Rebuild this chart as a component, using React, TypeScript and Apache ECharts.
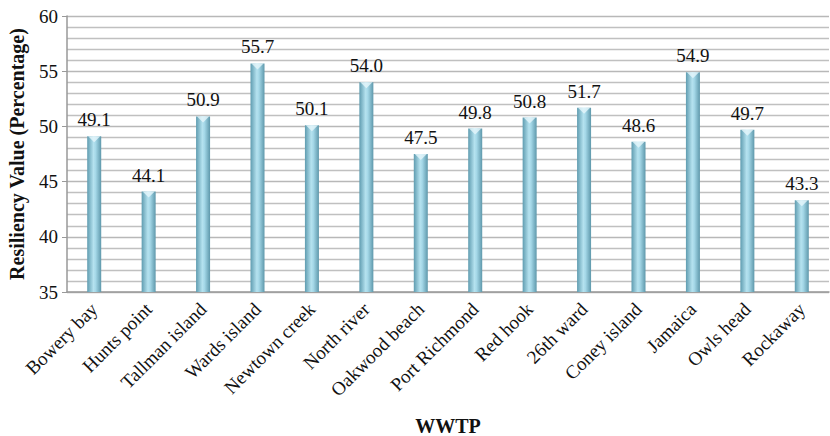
import React, { useEffect, useRef } from "react";
import * as echarts from "echarts";

const categories = [
  "Bowery bay", "Hunts point", "Tallman island", "Wards island", "Newtown creek",
  "North river", "Oakwood beach", "Port Richmond", "Red hook", "26th ward",
  "Coney island", "Jamaica", "Owls head", "Rockaway",
];
const values = [49.1, 44.1, 50.9, 55.7, 50.1, 54.0, 47.5, 49.8, 50.8, 51.7, 48.6, 54.9, 49.7, 43.3];
const yMin = 35;
const yMax = 60;
const yStep = 5;

const FONT = "Liberation Serif";

export default function App() {
  const ref = useRef<HTMLDivElement>(null);
  useEffect(() => {
    if (!ref.current) return;
    const chart = echarts.init(ref.current, undefined, { renderer: "svg" });
    chart.setOption({
      animation: false,
      grid: { left: 67, right: 1, top: 16, bottom: 144, containLabel: false, outerBoundsMode: "none" },
      xAxis: {
        type: "category",
        data: categories,
        name: "WWTP",
        nameLocation: "middle",
        nameGap: 124,
        nameTextStyle: { fontFamily: FONT, fontWeight: "bold", fontSize: 20, color: "#111" },
        axisLine: { lineStyle: { color: "#999", width: 1.5 } },
        axisTick: { show: false },
        axisLabel: {
          rotate: 45,
          interval: 0,
          fontFamily: FONT,
          fontSize: 19,
          color: "#111",
          margin: 14,
        },
      },
      yAxis: {
        type: "value",
        min: yMin,
        max: yMax,
        interval: yStep,
        name: "Resiliency Value (Percentage)",
        nameLocation: "middle",
        nameGap: 40,
        nameTextStyle: { fontFamily: FONT, fontWeight: "bold", fontSize: 20, color: "#111" },
        axisLine: { show: true, lineStyle: { color: "#999", width: 1.5 } },
        axisTick: { show: true, length: 5, lineStyle: { color: "#999" } },
        axisLabel: { fontFamily: FONT, fontSize: 19, color: "#111", margin: 9 },
        splitLine: { lineStyle: { color: "#b8b8b8", width: 1.3 } },
        minorTick: { show: false, splitNumber: 5 },
        minorSplitLine: { show: true, lineStyle: { color: "#c0c0c0", width: 1.3 } },
      },
      series: [
        {
          type: "bar",
          data: values,
          barWidth: 14,
          itemStyle: {
            color: new echarts.graphic.LinearGradient(0, 0, 1, 0, [
              { offset: 0, color: "#5f9cb0" },
              { offset: 0.45, color: "#b5e2ef" },
              { offset: 0.6, color: "#a5d8e8" },
              { offset: 1, color: "#5e98ab" },
            ]),
          },
          label: {
            show: true,
            position: "top",
            distance: 7,
            formatter: (p: any) => Number(p.value).toFixed(1),
            fontFamily: FONT,
            fontSize: 19,
            color: "#111",
          },
        },
        {
          type: "scatter",
          data: values,
          symbol: "triangle",
          symbolRotate: 180,
          symbolSize: [12, 6],
          symbolOffset: [0, 3],
          itemStyle: { color: "#e6f6fb" },
          silent: true,
          z: 3,
        },
      ],
    });
    return () => chart.dispose();
  }, []);
  return (
    <div
      ref={ref}
      style={{ position: "fixed", left: 0, top: 0, width: 830, height: 436, background: "#fff" }}
    />
  );
}
